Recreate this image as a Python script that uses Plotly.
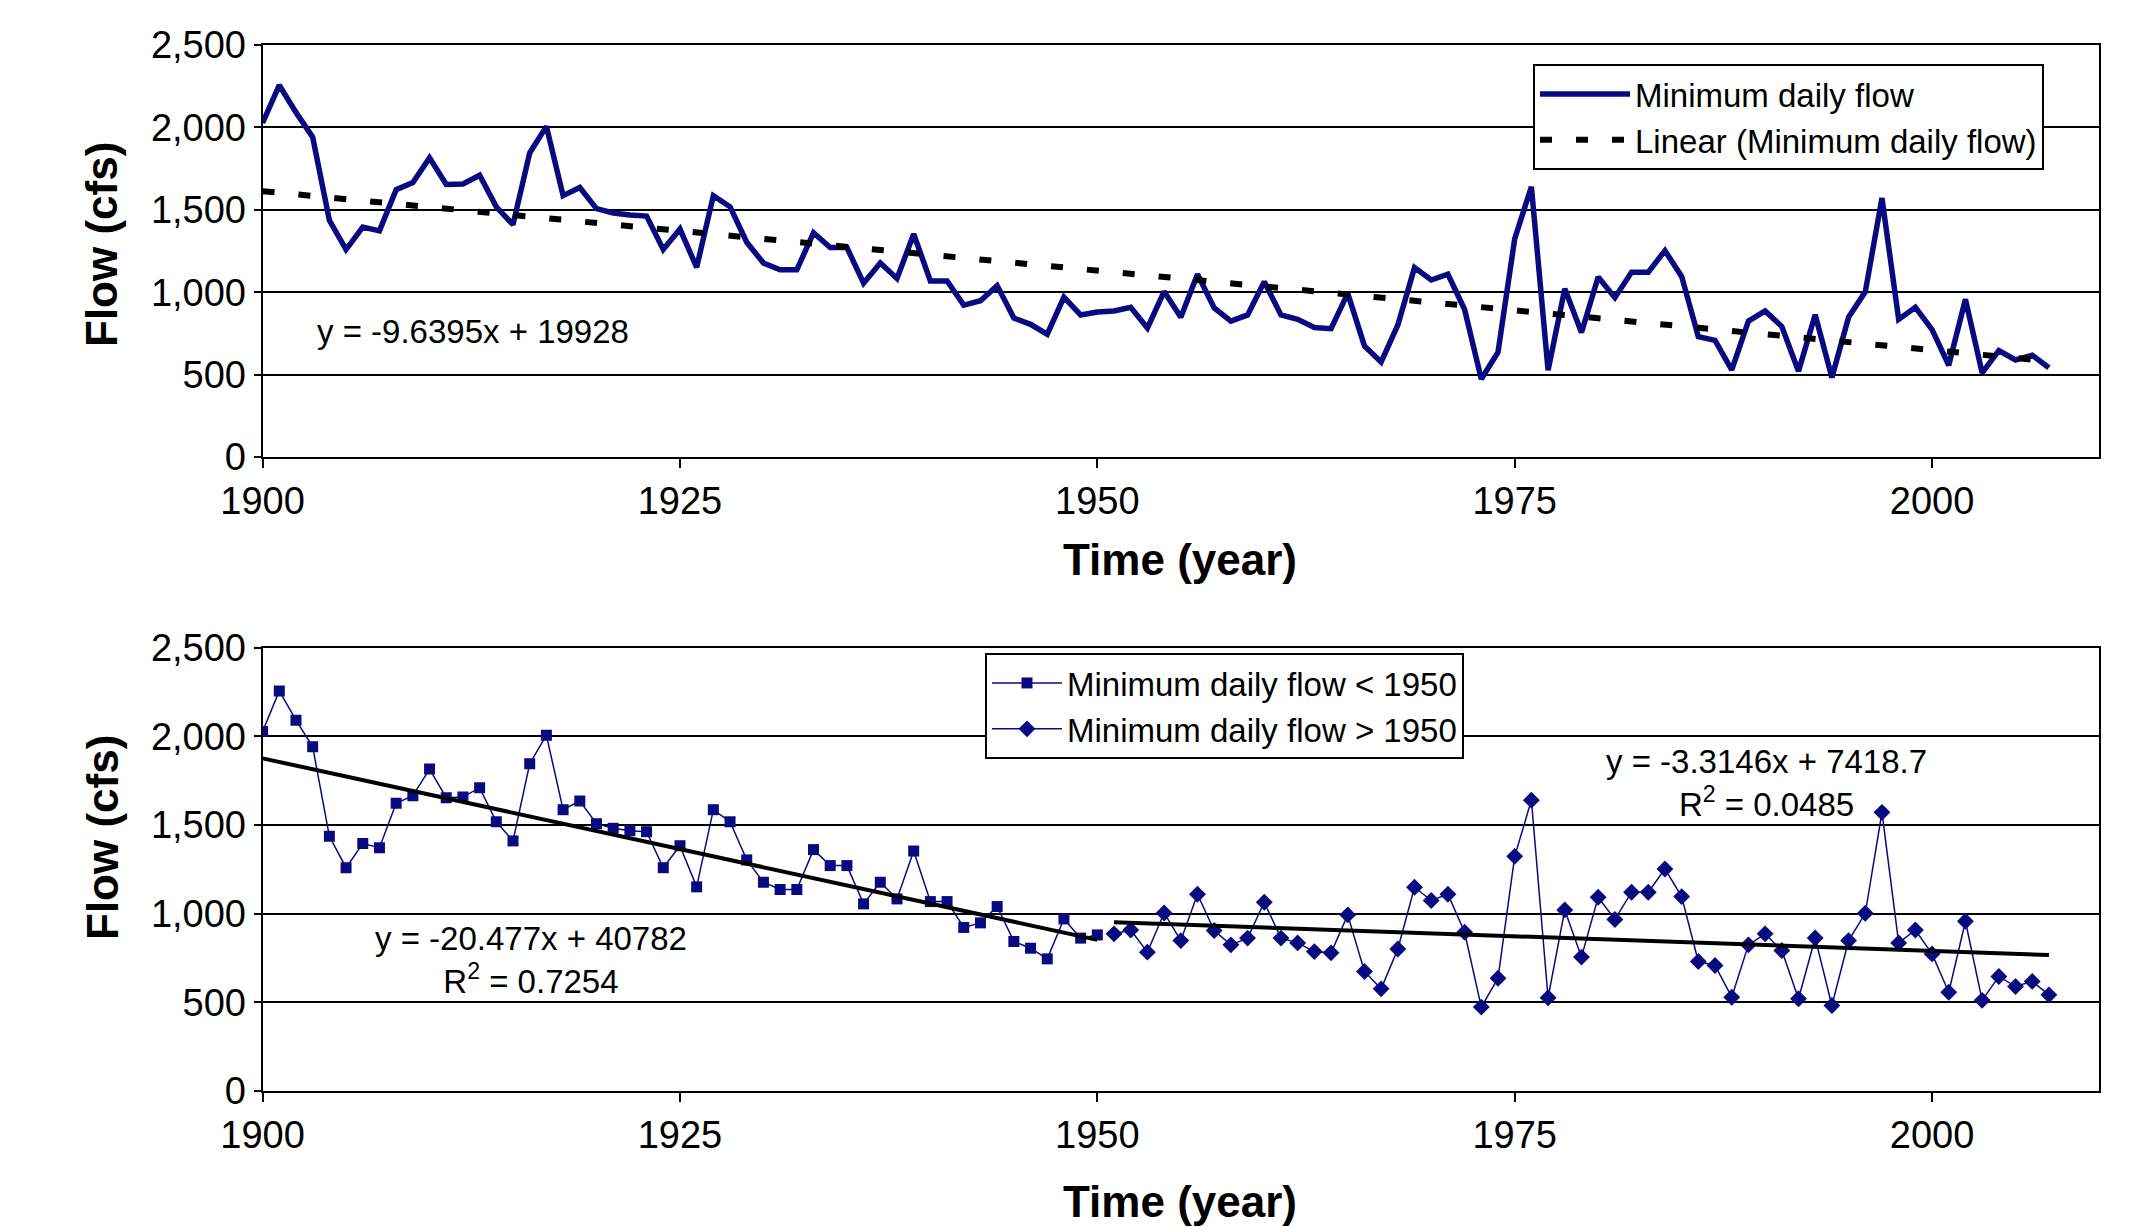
import plotly.graph_objects as go

# ---------------- data ----------------
years = list(range(1900, 2008))
flow = [
    2027, 2256, 2091, 1941, 1436, 1259, 1395, 1372, 1622, 1665,   # 1900-1909
    1815, 1654, 1657, 1710, 1518, 1410, 1845, 2006, 1586, 1635,   # 1910-1919
    1507, 1481, 1468, 1462, 1259, 1383, 1151, 1586, 1518, 1303,   # 1920-1929
    1177, 1136, 1136, 1361, 1271, 1271, 1055, 1177, 1083, 1353,   # 1930-1939
    1068, 1068, 922, 948, 1040, 843, 805, 745, 970, 862,          # 1940-1949
    880, 886, 908, 783, 1004, 848, 1109, 905, 824, 862,           # 1950-1959
    1064, 862, 835, 786, 779, 993, 674, 576, 801, 1149,           # 1960-1969
    1074, 1109, 895, 473, 636, 1323, 1640, 526, 1021, 755,        # 1970-1979
    1092, 967, 1121, 1121, 1252, 1096, 730, 708, 529, 824,        # 1980-1989
    886, 792, 520, 863, 482, 848, 1002, 1571, 835, 908,           # 1990-1999
    773, 557, 957, 511, 646, 589, 618, 542,                       # 2000-2007
]

# trend-line equations printed on the chart
trend_all = (-9.6395, 19928)
trend_pre = (-20.477, 40782)
trend_post = (-3.3146, 7418.7)
split_year = 1950

x_ticks = [1900, 1925, 1950, 1975, 2000]
y_ticks = [0, 500, 1000, 1500, 2000, 2500]

# --------------- derived ---------------
pre_years = [y for y in years if y <= split_year]
pre_flow = [f for y, f in zip(years, flow) if y <= split_year]
post_years = [y for y in years if y > split_year]
post_flow = [f for y, f in zip(years, flow) if y > split_year]


def line_vals(coef, xs):
    return [coef[0] * x + coef[1] for x in xs]


NAVY = "#0a0a80"
FONT = "Liberation Sans, Arial, sans-serif"
W, H = 2133, 1227
OFF = 8  # page body margin


def px(x):
    return (x - OFF) / W


def py(y):
    return 1 - (y - OFF) / H


fig = go.Figure()

# top panel
fig.add_trace(go.Scatter(
    x=years, y=flow, mode="lines", name="Minimum daily flow",
    line=dict(color=NAVY, width=5.5), xaxis="x", yaxis="y", legend="legend"))
fig.add_trace(go.Scatter(
    x=[years[0], years[-1]], y=line_vals(trend_all, [years[0], years[-1]]),
    mode="lines", name="Linear (Minimum daily flow)",
    line=dict(color="black", width=6, dash="12px,24px"),
    xaxis="x", yaxis="y", legend="legend"))

# bottom panel
fig.add_trace(go.Scatter(
    x=pre_years, y=pre_flow, mode="lines+markers", name="Minimum daily flow < 1950",
    line=dict(color=NAVY, width=1.5), marker=dict(symbol="square", size=11, color=NAVY),
    xaxis="x2", yaxis="y2", legend="legend2"))
fig.add_trace(go.Scatter(
    x=post_years, y=post_flow, mode="lines+markers", name="Minimum daily flow > 1950",
    line=dict(color=NAVY, width=1.5), marker=dict(symbol="diamond", size=13, color=NAVY),
    xaxis="x2", yaxis="y2", legend="legend2"))
fig.add_trace(go.Scatter(
    x=[pre_years[0], pre_years[-1]], y=line_vals(trend_pre, [pre_years[0], pre_years[-1]]),
    mode="lines", showlegend=False, line=dict(color="black", width=4),
    xaxis="x2", yaxis="y2"))
fig.add_trace(go.Scatter(
    x=[post_years[0], post_years[-1]], y=line_vals(trend_post, [post_years[0], post_years[-1]]),
    mode="lines", showlegend=False, line=dict(color="black", width=4),
    xaxis="x2", yaxis="y2"))

xdom = [px(262.6), px(2099)]


def xax(anchor):
    return dict(domain=xdom, anchor=anchor, range=[1900, 2010], tickvals=x_ticks,
                ticks="outside", ticklen=9, tickwidth=2, tickcolor="black",
                showline=True, linecolor="black", linewidth=2, mirror=True,
                showgrid=False, zeroline=False, automargin=False,
                tickfont=dict(family=FONT, size=38, color="black"))


def yax(anchor, dom):
    return dict(domain=dom, anchor=anchor, range=[0, 2500], tickvals=y_ticks,
                tickformat=",", ticks="outside", ticklen=7, tickwidth=2,
                tickcolor="black", showline=True, linecolor="black", linewidth=2,
                mirror=True, showgrid=True, gridcolor="black", gridwidth=2,
                zeroline=False, automargin=False,
                tickfont=dict(family=FONT, size=38, color="black"))


fig.update_layout(
    width=W, height=H, margin=dict(l=0, r=0, t=0, b=0, autoexpand=False),
    paper_bgcolor="white", plot_bgcolor="white",
    xaxis=xax("y"), yaxis=yax("x", [py(457), py(45)]),
    xaxis2=xax("y2"), yaxis2=yax("x2", [py(1091), py(647.6)]),
    legend=dict(x=px(1533), y=py(64), xanchor="left", yanchor="top",
                bgcolor="white", bordercolor="black", borderwidth=2,
                font=dict(family=FONT, size=33, color="black"),
                itemwidth=90, tracegroupgap=0),
    legend2=dict(x=px(985), y=py(653), xanchor="left", yanchor="top",
                 bgcolor="white", bordercolor="black", borderwidth=2,
                 font=dict(family=FONT, size=33, color="black"),
                 itemwidth=70, tracegroupgap=0),
    showlegend=True,
)

ann_font = dict(family=FONT, size=33, color="black")
title_font = dict(family=FONT, size=44, color="black")
fig.add_annotation(x=1912.6, y=764, xref="x", yref="y", text="y = -9.6395x + 19928",
                   showarrow=False, font=ann_font)
fig.add_annotation(x=1916.1, y=738, xref="x2", yref="y2",
                   text="y = -20.477x + 40782<br>R<sup>2</sup> = 0.7254",
                   showarrow=False, font=ann_font, align="center")
fig.add_annotation(x=1990.1, y=1736, xref="x2", yref="y2",
                   text="y = -3.3146x + 7418.7<br>R<sup>2</sup> = 0.0485",
                   showarrow=False, font=ann_font, align="center")

# axis titles
for yc in (245, 838):
    fig.add_annotation(x=px(102), y=py(yc), xref="paper", yref="paper",
                       xanchor="center", yanchor="middle",
                       text="<b>Flow (cfs)</b>", textangle=-90, showarrow=False,
                       font=title_font)
for yc in (559, 1201):
    fig.add_annotation(x=px(1180), y=py(yc), xref="paper", yref="paper",
                       xanchor="center", yanchor="middle",
                       text="<b>Time (year)</b>", showarrow=False, font=title_font)

fig.write_html("out.html")
